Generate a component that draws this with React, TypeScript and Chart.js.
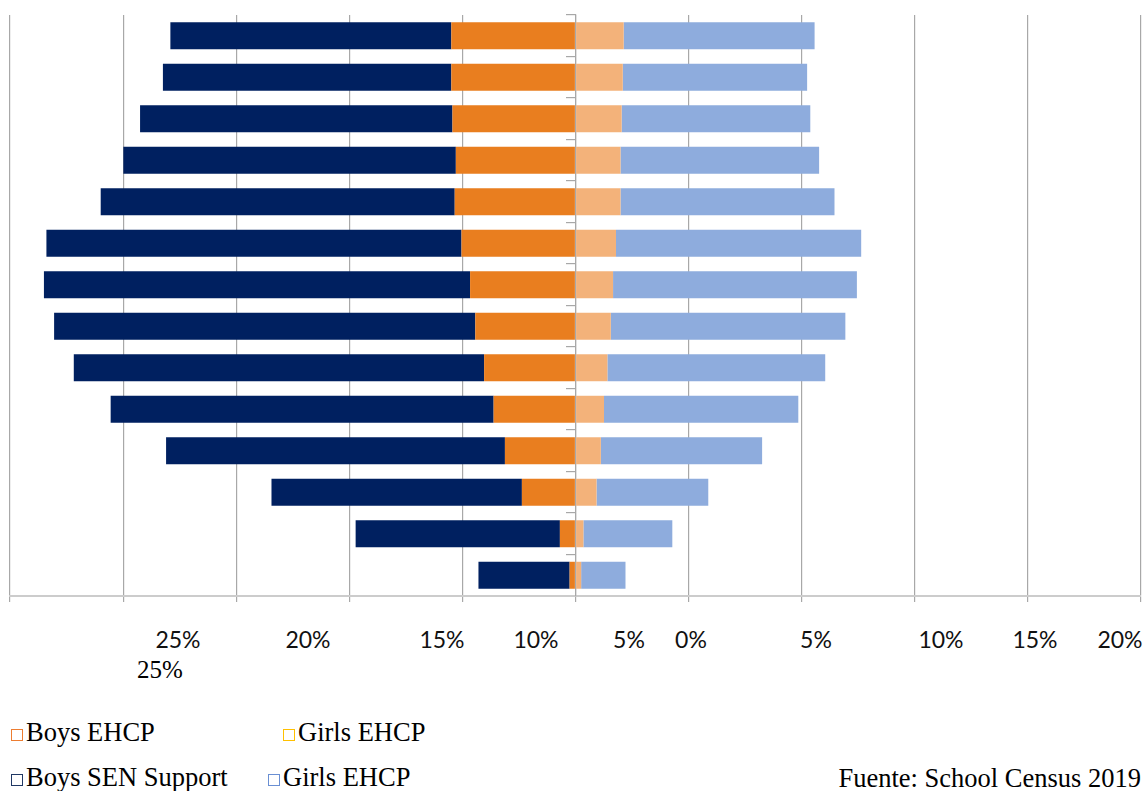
import React, { useEffect, useRef } from 'react';
import { Chart, registerables } from 'chart.js';

Chart.register(...registerables);

// Age groups, oldest at the top of the pyramid
const ages = ['15', '14', '13', '12', '11', '10', '9', '8', '7', '6', '5', '4', '3', '2'];

// Share of pupils (%) in each group
const boysEhcp = [5.49, 5.49, 5.44, 5.29, 5.34, 5.04, 4.66, 4.43, 4.04, 3.62, 3.12, 2.37, 0.69, 0.26];
const boysSenSupport = [12.42, 12.75, 13.81, 14.7, 15.65, 18.35, 18.84, 18.62, 18.14, 16.93, 14.98, 11.07, 9.03, 4.03];
const girlsEhcp = [2.13, 2.09, 2.04, 1.99, 1.99, 1.79, 1.66, 1.56, 1.41, 1.26, 1.12, 0.93, 0.35, 0.25];
const girlsSenSupport = [8.44, 8.15, 8.34, 8.78, 9.46, 10.84, 10.78, 10.37, 9.63, 8.59, 7.13, 4.94, 3.93, 1.96];

// Axis caption row under the chart
const axisLabels = ['25%', '20%', '15%', '10%', '5%', '0%', '5%', '10%', '15%', '20%'];
const axisExtraLabel = '25%';

// Legend entries and source note
const legendLabels = ['Boys EHCP', 'Girls EHCP', 'Boys SEN Support', 'Girls EHCP'];
const sourceNote = 'Fuente: School Census 2019';

// Styling
const barColors = {
  boysEhcp: '#E97E1F',
  boysSen: '#002060',
  girlsEhcp: '#F3B27A',
  girlsSen: '#8EACDD',
};
const legendSquareColors = ['#ED7D31', '#FFC000', '#203864', '#6A8FD3'];
const axisLabelCenters = [178, 308, 442, 536, 629, 691, 816, 941, 1035, 1120];
const legendLayout = [
  { square: 11, text: 26, baseline: 741 },
  { square: 283, text: 298, baseline: 741 },
  { square: 11, text: 26, baseline: 786 },
  { square: 268, text: 283, baseline: 786 },
];

const W = 1146;
const H = 791;
const CANVAS_H = 604;

export default function App() {
  const canvasRef = useRef<HTMLCanvasElement>(null);

  useEffect(() => {
    const chart = new Chart(canvasRef.current as HTMLCanvasElement, {
      type: 'bar',
      data: {
        labels: ages,
        datasets: [
          { label: legendLabels[0], data: boysEhcp.map((v) => -v), backgroundColor: barColors.boysEhcp },
          { label: legendLabels[2], data: boysSenSupport.map((v) => -v), backgroundColor: barColors.boysSen },
          { label: legendLabels[1], data: girlsEhcp, backgroundColor: barColors.girlsEhcp },
          { label: legendLabels[3], data: girlsSenSupport, backgroundColor: barColors.girlsSen },
        ],
      },
      options: {
        indexAxis: 'y',
        responsive: false,
        animation: false,
        layout: { padding: { left: 10, right: 5, top: 15, bottom: 2 } },
        datasets: { bar: { barPercentage: 0.65, categoryPercentage: 1, borderWidth: 0 } },
        plugins: { legend: { display: false }, tooltip: { enabled: false } },
        scales: {
          x: {
            type: 'linear',
            min: -25,
            max: 25,
            stacked: true,
            z: 1,
            ticks: { display: false, stepSize: 5 },
            grid: { color: '#a8a8a8', lineWidth: 1.2, tickLength: 6 },
            border: { color: '#cccccc', width: 2 },
          },
          y: {
            type: 'category',
            stacked: true,
            position: { x: 0 },
            z: 1,
            ticks: { display: false },
            grid: { drawOnChartArea: false, tickLength: 9, color: '#a8a8a8', lineWidth: 1.2 },
            border: { color: '#a8a8a8', width: 1.2 },
          },
        },
      },
    });
    return () => chart.destroy();
  }, []);

  const serif = '"Liberation Serif", "Times New Roman", serif';

  return (
    <div style={{ position: 'absolute', left: 0, top: 0, width: W, height: H, background: '#fff', overflow: 'hidden' }}>
      <canvas ref={canvasRef} width={W} height={CANVAS_H} style={{ position: 'absolute', left: 0, top: 0, width: W, height: CANVAS_H }} />

      {axisLabels.map((t, i) => (
        <div
          key={'ax' + i}
          style={{
            position: 'absolute',
            left: axisLabelCenters[i],
            top: 628,
            transform: 'translateX(-50%)',
            fontFamily: 'Lato, "Noto Sans", sans-serif',
            fontSize: 23,
            lineHeight: '23px',
            color: '#111',
            whiteSpace: 'nowrap',
          }}
        >
          {t}
        </div>
      ))}
      <div
        style={{
          position: 'absolute',
          left: 160,
          top: 657,
          transform: 'translateX(-50%)',
          fontFamily: serif,
          fontSize: 25,
          lineHeight: '25px',
          color: '#000',
          whiteSpace: 'nowrap',
        }}
      >
        {axisExtraLabel}
      </div>

      {legendLabels.map((t, i) => (
        <React.Fragment key={'lg' + i}>
          <div
            style={{
              position: 'absolute',
              left: legendLayout[i].square,
              top: legendLayout[i].baseline - 12,
              width: 12,
              height: 12,
              boxSizing: 'border-box',
              border: `1.5px solid ${legendSquareColors[i]}`,
            }}
          />
          <div
            style={{
              position: 'absolute',
              left: legendLayout[i].text,
              top: legendLayout[i].baseline - 22,
              fontFamily: serif,
              fontSize: 26.5,
              lineHeight: '26px',
              color: '#000',
              whiteSpace: 'nowrap',
            }}
          >
            {t}
          </div>
        </React.Fragment>
      ))}

      <div
        style={{
          position: 'absolute',
          right: 5,
          top: 765,
          fontFamily: serif,
          fontSize: 26.5,
          lineHeight: '26px',
          color: '#000',
          whiteSpace: 'nowrap',
        }}
      >
        {sourceNote}
      </div>
    </div>
  );
}
